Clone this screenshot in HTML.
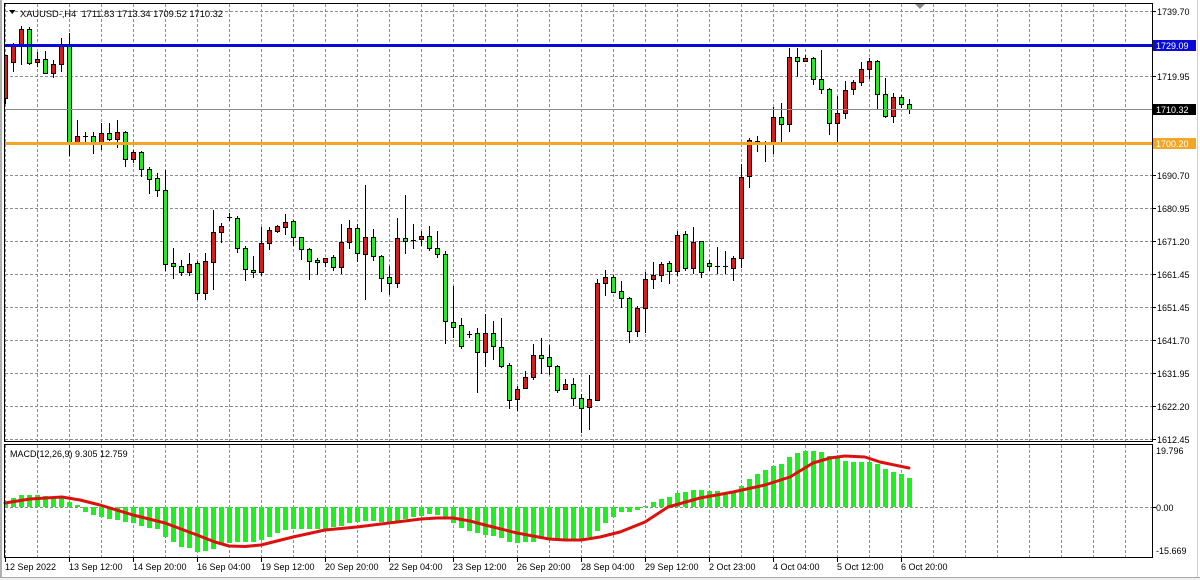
<!DOCTYPE html>
<html><head><meta charset="utf-8"><style>
html,body{margin:0;padding:0;background:#fff;}
svg{display:block;}
text{font-family:"Liberation Sans",sans-serif;font-size:9px;fill:#000;}
.g{fill:#22ec22;stroke:#000;stroke-width:1;}
.r{fill:#d41e1e;stroke:#000;stroke-width:1;}
</style></head><body>
<svg width="1200" height="580" xmlns="http://www.w3.org/2000/svg" shape-rendering="crispEdges">
<defs>
<pattern id="vg" patternUnits="userSpaceOnUse" x="37" y="4" width="32" height="5"><rect x="0" y="0" width="1" height="3" fill="#8c8c8c"/></pattern>
<pattern id="vg2" patternUnits="userSpaceOnUse" x="37" y="445" width="32" height="5"><rect x="0" y="0" width="1" height="3" fill="#8c8c8c"/></pattern>
</defs>
<rect width="1200" height="580" fill="#fff"/>
<rect x="0" y="578" width="1200" height="2" fill="#f0f0f0"/>
<rect x="0" y="577" width="1200" height="1" fill="#a8a8a8"/>
<rect x="0" y="0" width="2" height="577" fill="#b0b0b0"/>
<rect x="1197" y="0" width="1" height="577" fill="#d0d0d0"/>
<!-- grid -->
<rect x="5" y="4" width="1147" height="437" fill="url(#vg)"/>
<rect x="5" y="445" width="1147" height="112" fill="url(#vg2)"/>
<path stroke="#8c8c8c" stroke-dasharray="3 2" fill="none" d="M5 11.5H1152M5 44.5H1152M5 76.5H1152M5 142.5H1152M5 175.5H1152M5 208.5H1152M5 241.5H1152M5 274.5H1152M5 307.5H1152M5 340.5H1152M5 373.5H1152M5 406.5H1152M5 439.5H1152M5 507.5H1152"/>
<!-- wicks -->
<path stroke="#000" stroke-width="1" fill="none" d="M5.5 55V104M13.5 43V72M21.5 26V65M29.5 27V65M37.5 52V67M45.5 51V74M53.5 60V78M61.5 38V72M69.5 33V156M77.5 120V143M85.5 132V142M93.5 132V154M101.5 123V150M109.5 123V141M117.5 120V148M125.5 131V167M133.5 150V163M141.5 151V177M149.5 167V194M157.5 173V197M165.5 170V271M173.5 248V279M181.5 260V276M189.5 253V276M197.5 261V300M205.5 253V300M213.5 210V290M221.5 223V243M229.5 213V221M237.5 216V253M245.5 246V281M253.5 256V278M261.5 227V276M269.5 227V250M277.5 225V233M285.5 214V235M293.5 220V246M301.5 237V260M309.5 248V280M317.5 258V275M325.5 258V267M333.5 255V271M341.5 224V274M349.5 220V249M357.5 224V262M365.5 185V300M373.5 229V261M381.5 255V292M389.5 266V295M397.5 218V288M405.5 195V254M413.5 224V249M421.5 231V246M429.5 226V251M437.5 231V258M445.5 251V344M453.5 286V338M461.5 318V349M469.5 331V338M477.5 328V393M485.5 314V367M493.5 321V360M501.5 318V368M509.5 363V409M517.5 386V411M525.5 371V389M533.5 344V380M541.5 338V374M549.5 345V375M557.5 365V393M565.5 379V390M573.5 378V406M581.5 394V433M589.5 375V430M597.5 279V401M605.5 270V296M613.5 275V293M621.5 281V308M629.5 297V343M637.5 306V337M645.5 272V333M653.5 262V289M661.5 262V282M669.5 261V284M677.5 231V276M685.5 231V271M693.5 227V274M701.5 241V278M709.5 260V271M717.5 247V274M725.5 251V274M733.5 256V281M741.5 164V268M749.5 138V188M757.5 136V152M765.5 141V162M773.5 107V154M781.5 103V143M789.5 48V132M797.5 48V77M805.5 55V62M813.5 57V85M821.5 50V94M829.5 88V135M837.5 96V143M845.5 81V119M853.5 80V95M861.5 62V86M869.5 58V79M877.5 60V109M885.5 78V118M893.5 93V123M901.5 95V108M909.5 99V114"/>
<!-- doji -->
<path stroke="#000" stroke-width="1" fill="none" d="M83 136.5h5M227 217.5h5M411 240.5h5M467 334.5h5M715 266.5h5M723 266.5h5M755 141.5h5M763 142.5h5"/>
<!-- bodies -->
<rect class="r" x="4.5" y="55.5" width="3" height="43"/>
<rect class="r" x="11.5" y="44.5" width="4" height="18"/>
<rect class="r" x="19.5" y="29.5" width="4" height="15"/>
<rect class="g" x="27.5" y="29.5" width="4" height="34"/>
<rect class="r" x="35.5" y="59.5" width="4" height="3"/>
<rect class="g" x="43.5" y="59.5" width="4" height="14"/>
<rect class="r" x="51.5" y="64.5" width="4" height="9"/>
<rect class="r" x="59.5" y="44.5" width="4" height="20"/>
<rect class="g" x="67.5" y="44.5" width="4" height="98"/>
<rect class="r" x="75.5" y="136.5" width="4" height="6"/>
<rect class="g" x="91.5" y="136.5" width="4" height="6"/>
<rect class="r" x="99.5" y="133.5" width="4" height="9"/>
<rect class="g" x="107.5" y="133.5" width="4" height="6"/>
<rect class="r" x="115.5" y="132.5" width="4" height="7"/>
<rect class="g" x="123.5" y="132.5" width="4" height="27"/>
<rect class="r" x="131.5" y="152.5" width="4" height="7"/>
<rect class="g" x="139.5" y="152.5" width="4" height="17"/>
<rect class="g" x="147.5" y="169.5" width="4" height="10"/>
<rect class="g" x="155.5" y="178.5" width="4" height="12"/>
<rect class="g" x="163.5" y="190.5" width="4" height="74"/>
<rect class="g" x="171.5" y="263.5" width="4" height="3"/>
<rect class="g" x="179.5" y="266.5" width="4" height="6"/>
<rect class="r" x="187.5" y="264.5" width="4" height="8"/>
<rect class="g" x="195.5" y="263.5" width="4" height="30"/>
<rect class="r" x="203.5" y="261.5" width="4" height="32"/>
<rect class="r" x="211.5" y="232.5" width="4" height="30"/>
<rect class="r" x="219.5" y="226.5" width="4" height="6"/>
<rect class="g" x="235.5" y="218.5" width="4" height="30"/>
<rect class="g" x="243.5" y="248.5" width="4" height="21"/>
<rect class="g" x="251.5" y="270.5" width="4" height="2"/>
<rect class="r" x="259.5" y="243.5" width="4" height="29"/>
<rect class="r" x="267.5" y="230.5" width="4" height="13"/>
<rect class="r" x="275.5" y="226.5" width="4" height="5"/>
<rect class="r" x="283.5" y="222.5" width="4" height="5"/>
<rect class="g" x="291.5" y="221.5" width="4" height="16"/>
<rect class="g" x="299.5" y="237.5" width="4" height="12"/>
<rect class="g" x="307.5" y="249.5" width="4" height="12"/>
<rect class="g" x="315.5" y="260.5" width="4" height="2"/>
<rect class="r" x="323.5" y="258.5" width="4" height="4"/>
<rect class="g" x="331.5" y="257.5" width="4" height="10"/>
<rect class="r" x="339.5" y="242.5" width="4" height="25"/>
<rect class="r" x="347.5" y="228.5" width="4" height="14"/>
<rect class="g" x="355.5" y="228.5" width="4" height="25"/>
<rect class="r" x="363.5" y="237.5" width="4" height="17"/>
<rect class="g" x="371.5" y="237.5" width="4" height="19"/>
<rect class="g" x="379.5" y="256.5" width="4" height="22"/>
<rect class="g" x="387.5" y="277.5" width="4" height="6"/>
<rect class="r" x="395.5" y="238.5" width="4" height="45"/>
<rect class="g" x="403.5" y="238.5" width="4" height="3"/>
<rect class="r" x="419.5" y="236.5" width="4" height="3"/>
<rect class="g" x="427.5" y="236.5" width="4" height="12"/>
<rect class="g" x="435.5" y="248.5" width="4" height="6"/>
<rect class="g" x="443.5" y="254.5" width="4" height="67"/>
<rect class="g" x="451.5" y="322.5" width="4" height="5"/>
<rect class="g" x="459.5" y="325.5" width="4" height="21"/>
<rect class="g" x="475.5" y="333.5" width="4" height="19"/>
<rect class="r" x="483.5" y="333.5" width="4" height="19"/>
<rect class="g" x="491.5" y="333.5" width="4" height="13"/>
<rect class="g" x="499.5" y="347.5" width="4" height="19"/>
<rect class="g" x="507.5" y="365.5" width="4" height="35"/>
<rect class="r" x="515.5" y="389.5" width="4" height="10"/>
<rect class="r" x="523.5" y="377.5" width="4" height="11"/>
<rect class="r" x="531.5" y="355.5" width="4" height="22"/>
<rect class="g" x="539.5" y="355.5" width="4" height="3"/>
<rect class="g" x="547.5" y="357.5" width="4" height="9"/>
<rect class="g" x="555.5" y="366.5" width="4" height="24"/>
<rect class="r" x="563.5" y="384.5" width="4" height="5"/>
<rect class="g" x="571.5" y="384.5" width="4" height="14"/>
<rect class="g" x="579.5" y="398.5" width="4" height="10"/>
<rect class="r" x="587.5" y="399.5" width="4" height="8"/>
<rect class="r" x="595.5" y="283.5" width="4" height="117"/>
<rect class="r" x="603.5" y="277.5" width="4" height="6"/>
<rect class="g" x="611.5" y="277.5" width="4" height="15"/>
<rect class="g" x="619.5" y="291.5" width="4" height="7"/>
<rect class="g" x="627.5" y="298.5" width="4" height="33"/>
<rect class="r" x="635.5" y="308.5" width="4" height="23"/>
<rect class="r" x="643.5" y="279.5" width="4" height="29"/>
<rect class="r" x="651.5" y="275.5" width="4" height="4"/>
<rect class="r" x="659.5" y="264.5" width="4" height="11"/>
<rect class="g" x="667.5" y="263.5" width="4" height="8"/>
<rect class="r" x="675.5" y="235.5" width="4" height="36"/>
<rect class="g" x="683.5" y="234.5" width="4" height="34"/>
<rect class="r" x="691.5" y="242.5" width="4" height="26"/>
<rect class="g" x="699.5" y="241.5" width="4" height="31"/>
<rect class="g" x="707.5" y="263.5" width="4" height="3"/>
<rect class="r" x="731.5" y="258.5" width="4" height="10"/>
<rect class="r" x="739.5" y="177.5" width="4" height="81"/>
<rect class="r" x="747.5" y="140.5" width="4" height="36"/>
<rect class="r" x="771.5" y="117.5" width="4" height="25"/>
<rect class="g" x="779.5" y="117.5" width="4" height="7"/>
<rect class="r" x="787.5" y="57.5" width="4" height="67"/>
<rect class="g" x="795.5" y="57.5" width="4" height="4"/>
<rect class="r" x="803.5" y="58.5" width="4" height="3"/>
<rect class="g" x="811.5" y="58.5" width="4" height="21"/>
<rect class="g" x="819.5" y="79.5" width="4" height="10"/>
<rect class="g" x="827.5" y="89.5" width="4" height="34"/>
<rect class="r" x="835.5" y="113.5" width="4" height="10"/>
<rect class="r" x="843.5" y="90.5" width="4" height="23"/>
<rect class="r" x="851.5" y="82.5" width="4" height="7"/>
<rect class="r" x="859.5" y="69.5" width="4" height="13"/>
<rect class="r" x="867.5" y="61.5" width="4" height="8"/>
<rect class="g" x="875.5" y="61.5" width="4" height="33"/>
<rect class="g" x="883.5" y="94.5" width="4" height="22"/>
<rect class="r" x="891.5" y="97.5" width="4" height="19"/>
<rect class="g" x="899.5" y="97.5" width="4" height="7"/>
<rect class="g" x="907.5" y="104.5" width="4" height="5"/>
<!-- horizontal level lines -->
<rect x="5" y="109" width="1147" height="1" fill="#8a8a8a"/>
<rect x="5" y="44" width="1147" height="3" fill="#0a0ad8"/>
<rect x="5" y="142" width="1147" height="3" fill="#f3a626"/>
<!-- MACD histogram -->
<path fill="#22ec22" d="M4 502h4V507h-4zM11 498h5V507h-5zM19 495h5V507h-5zM27 495h5V507h-5zM35 495h5V507h-5zM43 496h5V507h-5zM51 498h5V507h-5zM59 498h5V507h-5zM67 502h5V507h-5zM75 505h5V507h-5zM83 512h5V507h-5zM91 515h5V507h-5zM99 517h5V507h-5zM107 519h5V507h-5zM115 520h5V507h-5zM123 522h5V507h-5zM131 523h5V507h-5zM139 526h5V507h-5zM147 528h5V507h-5zM155 529h5V507h-5zM163 537h5V507h-5zM171 542h5V507h-5zM179 547h5V507h-5zM187 548h5V507h-5zM195 552h5V507h-5zM203 551h5V507h-5zM211 549h5V507h-5zM219 545h5V507h-5zM227 543h5V507h-5zM235 542h5V507h-5zM243 542h5V507h-5zM251 542h5V507h-5zM259 540h5V507h-5zM267 537h5V507h-5zM275 533h5V507h-5zM283 530h5V507h-5zM291 529h5V507h-5zM299 529h5V507h-5zM307 529h5V507h-5zM315 529h5V507h-5zM323 529h5V507h-5zM331 527h5V507h-5zM339 526h5V507h-5zM347 523h5V507h-5zM355 522h5V507h-5zM363 521h5V507h-5zM371 521h5V507h-5zM379 522h5V507h-5zM387 522h5V507h-5zM395 521h5V507h-5zM403 519h5V507h-5zM411 517h5V507h-5zM419 516h5V507h-5zM427 514h5V507h-5zM435 515h5V507h-5zM443 517h5V507h-5zM451 523h5V507h-5zM459 528h5V507h-5zM467 531h5V507h-5zM475 533h5V507h-5zM483 535h5V507h-5zM491 536h5V507h-5zM499 538h5V507h-5zM507 542h5V507h-5zM515 543h5V507h-5zM523 542h5V507h-5zM531 542h5V507h-5zM539 539h5V507h-5zM547 539h5V507h-5zM555 539h5V507h-5zM563 539h5V507h-5zM571 539h5V507h-5zM579 539h5V507h-5zM587 537h5V507h-5zM595 531h5V507h-5zM603 523h5V507h-5zM611 517h5V507h-5zM619 512h5V507h-5zM627 512h5V507h-5zM635 510h5V507h-5zM643 506h5V507h-5zM651 502h5V507h-5zM659 499h5V507h-5zM667 497h5V507h-5zM675 493h5V507h-5zM683 492h5V507h-5zM691 490h5V507h-5zM699 490h5V507h-5zM707 491h5V507h-5zM715 491h5V507h-5zM723 493h5V507h-5zM731 493h5V507h-5zM739 486h5V507h-5zM747 479h5V507h-5zM755 474h5V507h-5zM763 470h5V507h-5zM771 466h5V507h-5zM779 464h5V507h-5zM787 457h5V507h-5zM795 453h5V507h-5zM803 451h5V507h-5zM811 451h5V507h-5zM819 452h5V507h-5zM827 456h5V507h-5zM835 457h5V507h-5zM843 461h5V507h-5zM851 462h5V507h-5zM859 462h5V507h-5zM867 462h5V507h-5zM875 464h5V507h-5zM883 469h5V507h-5zM891 472h5V507h-5zM899 474h5V507h-5zM907 478h5V507h-5z"/>
<!-- signal line -->
<polyline shape-rendering="auto" fill="none" stroke="#dd1010" stroke-width="3" stroke-linejoin="round" stroke-linecap="round" points="5,503 30,499 62,497 80,500 100,505 133,515 165,523 197,535 215,542 229,546 245,546.5 261,545 293,537 325,530 357,527 389,523 421,519 437,518 453,518 470,521 485,525 517,533 549,539 565,540 581,540 600,537 620,532 645,522 668,507 700,498 733,492 765,485 790,477 813,463 830,458 845,456 865,457 880,462 909,468"/>
<!-- frames -->
<rect x="4.5" y="3.5" width="1148" height="438" fill="none" stroke="#000"/>
<rect x="4.5" y="444.5" width="1148" height="113" fill="none" stroke="#000"/>
<!-- shift triangle -->
<polygon shape-rendering="auto" points="915,4 925,4 920,9" fill="#8a8a8a"/>
<!-- header -->
<polygon shape-rendering="auto" points="9,10 15.5,10 12.25,14" fill="#000"/>
<text x="20" y="17" style="font-size:9.3px">XAUUSD-,H4&#160; 1711.83 1713.34 1709.52 1710.32</text>
<text x="10" y="457">MACD(12,26,9) 9.305 12.759</text>
<!-- right axis ticks -->
<path stroke="#000" fill="none" d="M1153 11.5h3M1153 76.5h3M1153 175.5h3M1153 208.5h3M1153 241.5h3M1153 274.5h3M1153 307.5h3M1153 340.5h3M1153 373.5h3M1153 406.5h3M1153 439.5h3M1153 507.5h3"/>
<!-- right axis labels -->
<text x="1157" y="15">1739.70</text>
<text x="1157" y="80">1719.95</text>
<text x="1157" y="179">1690.70</text>
<text x="1157" y="212">1680.95</text>
<text x="1157" y="245">1671.20</text>
<text x="1157" y="278">1661.45</text>
<text x="1157" y="311">1651.45</text>
<text x="1157" y="344">1641.70</text>
<text x="1157" y="377">1631.95</text>
<text x="1157" y="410">1622.20</text>
<text x="1157" y="443">1612.45</text>
<rect x="1153" y="40" width="43" height="11" fill="#0a0ad8"/>
<text x="1156" y="49" style="fill:#fff">1729.09</text>
<rect x="1153" y="104" width="43" height="11" fill="#000"/>
<text x="1156" y="113" style="fill:#fff">1710.32</text>
<rect x="1153" y="138" width="43" height="11" fill="#f3a626"/>
<text x="1156" y="147" style="fill:#fff">1700.20</text>
<text x="1156" y="454">19.796</text>
<text x="1156" y="511">0.00</text>
<text x="1156" y="554">-15.669</text>
<!-- time ticks -->
<path stroke="#000" fill="none" d="M5.5 558v4M69.5 558v4M133.5 558v4M197.5 558v4M261.5 558v4M325.5 558v4M389.5 558v4M453.5 558v4M517.5 558v4M581.5 558v4M645.5 558v4M709.5 558v4M773.5 558v4M837.5 558v4M901.5 558v4"/>
<text x="5" y="570">12 Sep 2022</text>
<text x="69" y="570">13 Sep 12:00</text>
<text x="133" y="570">14 Sep 20:00</text>
<text x="197" y="570">16 Sep 04:00</text>
<text x="261" y="570">19 Sep 12:00</text>
<text x="325" y="570">20 Sep 20:00</text>
<text x="389" y="570">22 Sep 04:00</text>
<text x="453" y="570">23 Sep 12:00</text>
<text x="517" y="570">26 Sep 20:00</text>
<text x="581" y="570">28 Sep 04:00</text>
<text x="645" y="570">29 Sep 12:00</text>
<text x="709" y="570">2 Oct 23:00</text>
<text x="773" y="570">4 Oct 04:00</text>
<text x="837" y="570">5 Oct 12:00</text>
<text x="901" y="570">6 Oct 20:00</text>
</svg>
</body></html>
